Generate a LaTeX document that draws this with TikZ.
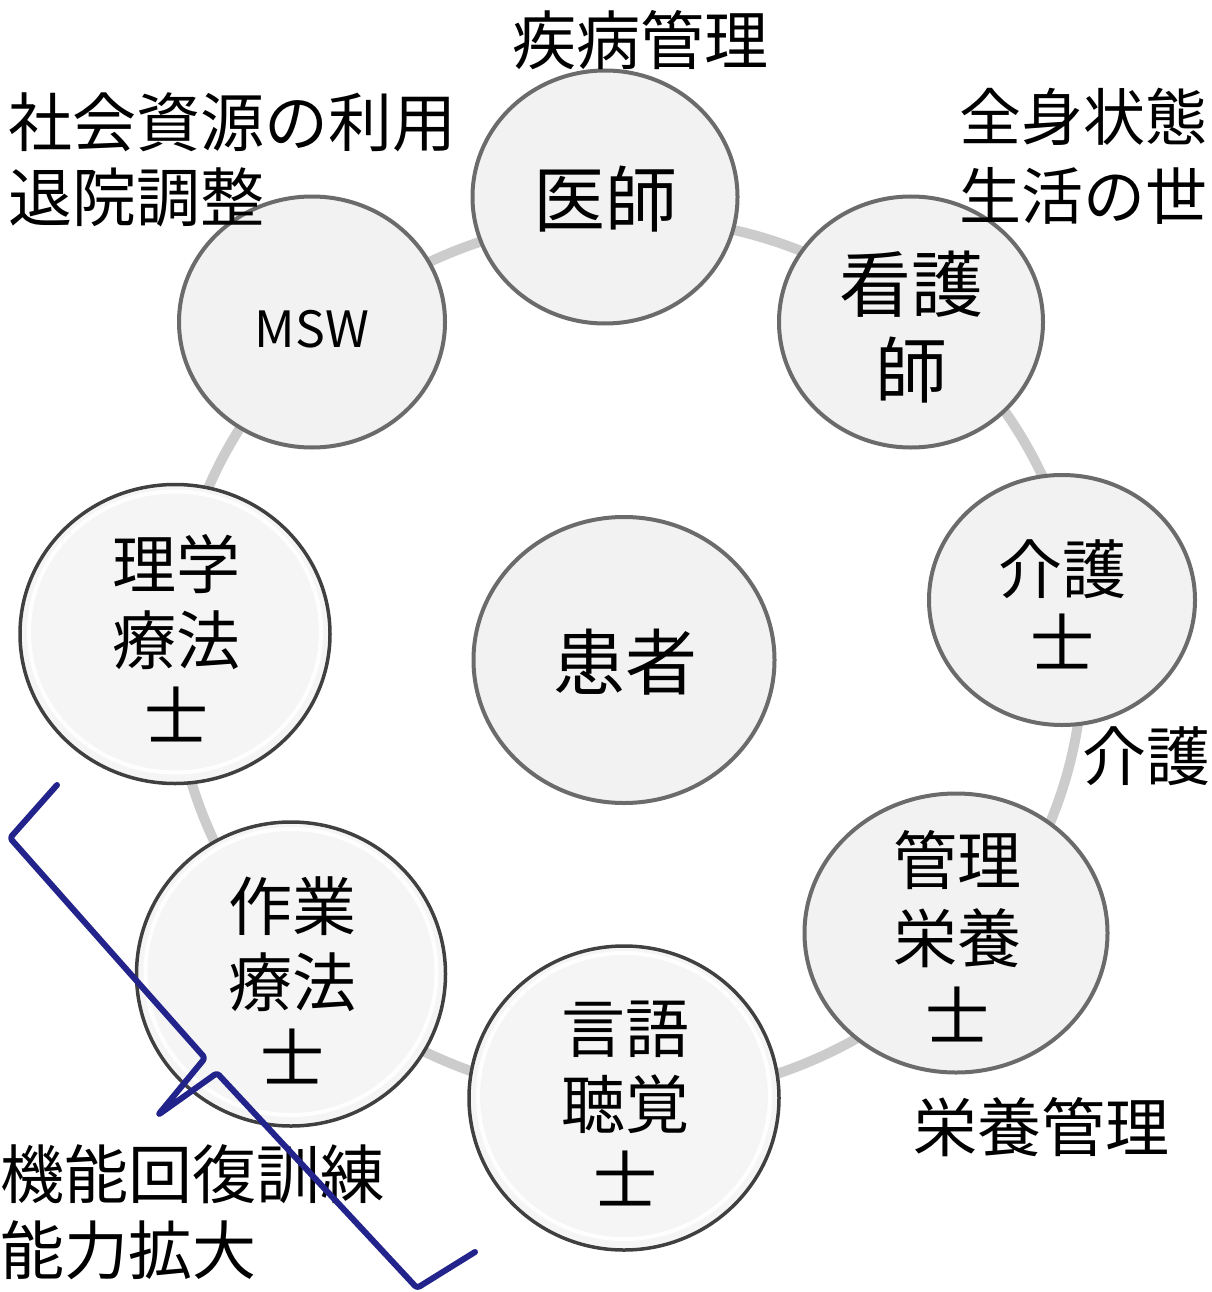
\documentclass[tikz,border=0pt]{standalone}
\usepackage{fontspec}
\setmainfont{Noto Sans CJK JP}
\usetikzlibrary{shapes.geometric,calc}
\definecolor{ringgray}{HTML}{CCCCCC}
\definecolor{bubfill}{HTML}{F2F2F2}
\definecolor{bubline}{HTML}{6B6B6B}
\definecolor{bevfill}{HTML}{F5F5F5}
\definecolor{bevline}{HTML}{404040}
\definecolor{bevshade}{HTML}{B4B4B4}
\definecolor{bracecol}{RGB}{35,35,140}
\begin{document}
\begin{tikzpicture}[x=1pt,y=-1pt,
  bub/.style={ellipse, inner sep=0, fill=bubfill, draw=bubline, line width=4},
  bev/.style={ellipse, inner sep=0, fill=bevfill, draw=bevline, line width=3.5,
    path picture={
      \path let \p1=(path picture bounding box.north east),
                \p2=(path picture bounding box.center),
                \n1={\x1-\x2}, \n2={\y1-\y2} in
        [draw=bevshade!45, line width=22] (\p2) ellipse [x radius={\n1*1pt}, y radius={\n2*1pt}]
        [draw=bevshade, line width=12] (\p2) ellipse [x radius={\n1*1pt}, y radius={\n2*1pt}]
        [draw=white, line width=4, opacity=0.95] (\x2,\y2+2pt) ellipse [x radius={(\n1-9)*1pt}, y radius={(\n2-9)*1pt}];
    }},
  big/.style={inner sep=0, align=center, font={\fontsize{72}{85}\selectfont}},
  mid/.style={inner sep=0, align=center, font={\fontsize{64}{76}\selectfont}},
  side/.style={inner sep=0, font={\fontsize{64}{76}\selectfont}}
]
\useasboundingbox (0,0) rectangle (1211,1292);
% ring
\draw[ringgray, line width=10] (628,658) ellipse [x radius=455, y radius=440];
% circles
\node[bub, minimum width=265, minimum height=253] (ishi)  at (605,197) {};
\node[bub, minimum width=264, minimum height=251] (kango) at (911,322) {};
\node[bub, minimum width=266, minimum height=250] (kaigo) at (1062,600) {};
\node[bub, minimum width=303, minimum height=279] (eiyou) at (956,933) {};
\node[bev, minimum width=310, minimum height=304] (gengo) at (624,1098) {};
\node[bev, minimum width=309, minimum height=304] (sagyo) at (291,974) {};
\node[bev, minimum width=310, minimum height=299] (rigaku) at (175,634) {};
\node[bub, minimum width=266, minimum height=251] (msw)   at (312,322) {};
\node[bub, minimum width=301, minimum height=286] (kanja) at (624,660) {};
% circle texts
\node[big] (tishi)  at (605,199) {医師};
\node[big, font={\fontsize{72}{86}\selectfont}] (tkango) at (911,327) {看護\\師};
\node[mid, font={\fontsize{64}{74}\selectfont}] (tkaigo) at (1062,604) {介護\\士};
\node[mid, font={\fontsize{64}{78}\selectfont}] (teiyou) at (957,936) {管理\\栄養\\士};
\node[mid] (tgengo)  at (625,1103) {言語\\聴覚\\士};
\node[mid] (tsagyo)  at (292,980) {作業\\療法\\士};
\node[mid] (trigaku) at (176,638) {理学\\療法\\士};
\node[inner sep=0, font={\fontsize{50}{52}\selectfont}] (tmsw) at (312,329) {MSW};
\node[big] (tkanja) at (625,662) {患者};
% outer labels
\node[side] (lshippei) at (640,40) {疾病管理};
\node[side, anchor=west, align=left, font={\fontsize{64}{75}\selectfont}] (lshakai) at (8,160) {社会資源の利用\\退院調整};
\node[side, anchor=west, align=left, font={\fontsize{62}{79}\selectfont}] (lzenshin) at (959,156) {全身状態\\生活の世};
\node[side, anchor=west] (lkaigo) at (1082,756) {介護};
\node[side] (leiyou) at (1041,1127) {栄養管理};
\node[side, anchor=west, align=left, font={\fontsize{64}{76}\selectfont}] (lkinou) at (0,1212) {機能回復訓練\\能力拡大};
% brace
\draw[bracecol, line width=6, line cap=round, line join=round, rounded corners=3]
  (57,785) -- (10,838) -- (205,1058) -- (158,1115) -- (217,1073) -- (417,1288) -- (475,1252);
\end{tikzpicture}
\end{document}
